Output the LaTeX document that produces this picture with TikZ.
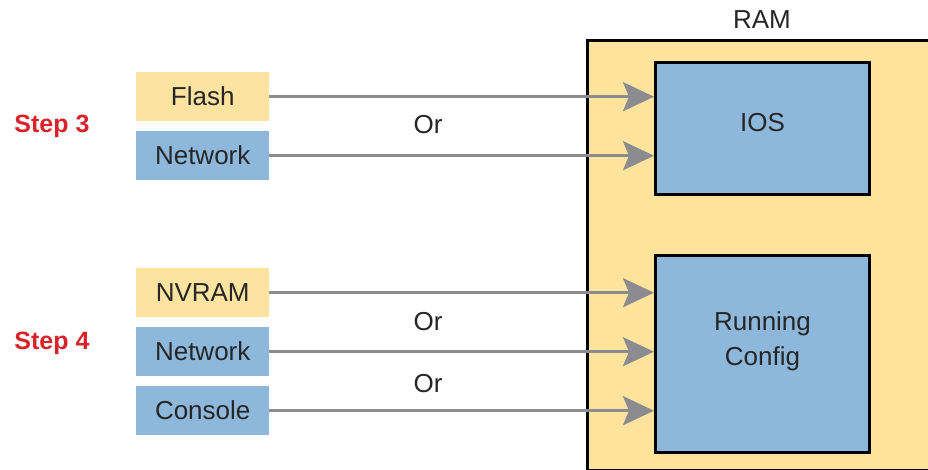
\documentclass[tikz,border=0pt]{standalone}
\usepackage{fontspec}
\setmainfont{Liberation Sans}
\usetikzlibrary{arrows.meta}
\definecolor{srcyellow}{HTML}{FDE3A0}
\definecolor{srcblue}{HTML}{8DB8DC}
\definecolor{ramyellow}{HTML}{FEE39D}
\definecolor{steptext}{HTML}{D8232A}
\definecolor{arrowgray}{HTML}{8C8C90}
\begin{document}
\begin{tikzpicture}[x=1pt,y=-1pt,
  txt/.style={font=\fontsize{26}{34}\selectfont, text=black!85},
  srcbox/.style={txt, minimum width=133pt, minimum height=49pt, inner sep=0pt, anchor=north west},
  yelbox/.style={srcbox, fill=srcyellow},
  blubox/.style={srcbox, fill=srcblue},
  membox/.style={draw=black, line width=3pt, fill=srcblue, inner sep=0pt, anchor=north west},
  steplabel/.style={font=\bfseries\fontsize{25}{30}\selectfont, text=steptext},
  orlabel/.style={txt},
  feed/.style={draw=arrowgray, line width=3pt, -{Stealth[length=31pt,width=29pt,inset=6pt]}}
]
\useasboundingbox (0,0) rectangle (928,470);
\clip (0,0) rectangle (928,470);
\fill[white] (0,0) rectangle (928,470);
% RAM area
\node[draw=black, line width=3pt, fill=ramyellow, minimum width=360pt, minimum height=430pt, inner sep=0pt, anchor=north west] (ram) at (586,39) {};
\node[txt] (ramlabel) at (762,20) {RAM};
% memory contents
\node[membox, minimum width=214pt, minimum height=132pt] (ios) at (654,61) {};
\node[txt] (iostext) at ([yshift=6pt]ios.center) {IOS};
\node[membox, minimum width=214pt, minimum height=197pt] (run) at (654,254) {};
\node[txt, align=center, font=\fontsize{26}{35}\selectfont] (runtext) at ([yshift=13pt]run.center) {Running\\Config};
% sources
\node[yelbox] (flash) at (136,72) {Flash};
\node[blubox] (net1) at (136,131) {Network};
\node[yelbox] (nvram) at (136,268) {NVRAM};
\node[blubox] (net2) at (136,327) {Network};
\node[blubox] (cons) at (136,386) {Console};
% step labels
\node[steplabel] (s3) at (52,126) {Step 3};
\node[steplabel] (s4) at (52,343) {Step 4};
% or labels
\node[orlabel] (or1) at (428,125) {Or};
\node[orlabel] (or2) at (428,322) {Or};
\node[orlabel] (or3) at (428,384) {Or};
% arrows
\draw[feed] (flash.east) -- (flash.east -| ios.west);
\draw[feed] (net1.east) -- (net1.east -| ios.west);
\draw[feed] (nvram.east) -- (nvram.east -| run.west);
\draw[feed] (net2.east) -- (net2.east -| run.west);
\draw[feed] (cons.east) -- (cons.east -| run.west);
\end{tikzpicture}
\end{document}
